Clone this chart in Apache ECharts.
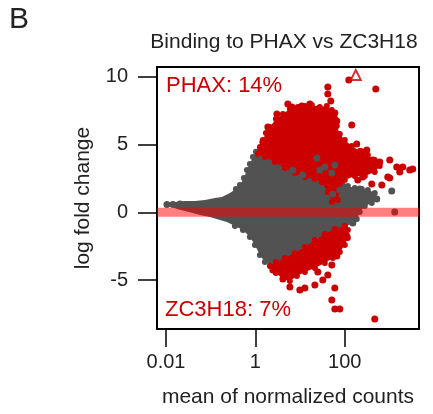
<!DOCTYPE html>
<html><head><meta charset="utf-8">
<script src="https://cdn.jsdelivr.net/npm/echarts@6/dist/echarts.min.js"></script>
<style>html,body{margin:0;padding:0;background:#fff}#c{width:433px;height:414px}</style>
</head><body><div id="c"></div>
<script>
// ---- data (mean of normalized counts, log fold change) ----
const xTicks = [0.01, 1, 100];
const yTicks = [-5, 0, 5, 10];
const xRange = [0.00629, 4571];
const yRange = [-8.61, 10.72];

// dense grey cloud outline (non-significant genes)
const greyOutline = [
  [0.0095,0.69],[0.0159,0.76],[0.0266,0.83],[0.0445,0.83],[0.0744,0.91],[0.124,1.06],[0.178,1.13],
  [0.269,1.42],[0.367,1.72],[0.451,2.01],[0.553,2.53],[0.646,3.12],[0.753,3.56],[0.879,4.08],
  [1.03,4.46],[1.20,4.38],[1.47,4.16],[2.11,4.01],[3.02,3.71],[4.12,3.49],[5.90,3.27],[8.46,3.12],
  [11.5,2.97],[16.5,2.97],[23.7,3.27],[32.2,3.49],[46.2,3.56],[66.3,3.12],[85.7,2.38],[117,1.94],
  [167,1.79],[240,1.72],[327,1.65],[468,1.42],[519,0.98],[401,0.69],[280,0.46],[216,0.02],
  [185,-0.49],[151,-0.79],[100,-1.09],[77.3,-1.16],[46.2,-1.38],[27.6,-1.75],[16.5,-2.27],
  [9.87,-2.78],[5.90,-3.23],[3.53,-3.59],[2.34,-3.97],[1.63,-3.67],[1.26,-3.15],[0.975,-2.41],
  [0.753,-1.82],[0.526,-1.31],[0.348,-1.01],[0.231,-0.72],[0.161,-0.57],[0.0962,-0.35],
  [0.0575,-0.20],[0.0401,-0.05],[0.0266,0.10],[0.0176,0.24],[0.0123,0.46]
];
// dense red cloud, enriched with PHAX
const phaxOutline = [
  [1.14,4.31],[1.26,4.82],[1.47,5.34],[1.72,5.85],[2.11,6.29],[2.87,6.89],[4.12,7.25],[5.90,7.62],
  [8.91,7.77],[12.8,7.85],[18.3,7.92],[27.6,7.77],[39.6,7.85],[51.2,7.55],[59.8,6.96],[66.3,6.37],
  [77.3,5.78],[100,5.34],[143,4.90],[216,4.53],[327,4.23],[468,3.86],[606,3.42],[468,2.97],
  [280,2.68],[167,2.68],[100,2.38],[77.3,1.65],[69.8,0.91],[51.2,0.76],[41.7,1.50],[30.6,2.24],
  [21.4,2.46],[12.8,2.61],[7.64,2.90],[4.56,3.27],[2.73,3.71],[1.63,4.08]
];
// dense red cloud, enriched with ZC3H18
const zcOutline = [
  [2.11,-3.97],[2.87,-3.67],[4.56,-3.37],[7.64,-3.01],[12.8,-2.56],[21.4,-2.04],[35.7,-1.60],
  [59.8,-1.23],[100,-1.01],[117,-1.31],[117,-1.90],[100,-2.41],[77.3,-2.93],[53.9,-3.37],
  [35.7,-3.74],[21.4,-4.11],[12.8,-4.41],[8.46,-4.70],[5.90,-5.07],[4.12,-4.92],[2.87,-4.48]
];
// individual points outside / on the edge of the dense clouds
const phaxPoints = [
  [123,9.76],[493,9.10],[41.7,9.25],[41.7,8.73],[48.6,8.21],[5.32,7.99],[6.54,7.77],[10.9,7.85],
  [16.5,7.99],[24.9,7.62],[3.02,7.25],[4.56,7.03],[59.8,7.33],[66.3,6.73],[143,6.44],[1.90,6.29],
  [2.11,5.85],[1.47,5.19],[1.33,4.60],[111,4.82],[185,5.04],[240,4.46],[310,4.60],[423,3.86],
  [606,3.71],[362,3.34],[914,2.61],[672,2.01],[1452,3.34],[1977,3.34],[2836,3.12],[3311,3.20],
  [1694,2.97],[252,2.61],[129,3.34],[1013,3.86],[401,2.09],[167,4.01],[100,3.86],[1013,2.53],[195,2.38]
];
const zcPoints = [
  [2.46,-4.26],[4.12,-4.92],[5.90,-5.51],[9.87,-5.73],[12.8,-5.59],[21.4,-5.37],[32.2,-5.00],
  [41.7,-4.63],[51.2,-3.89],[24.9,-4.41],[59.8,-5.59],[51.2,-6.47],[59.8,-7.14],[77.3,-7.14],
  [468,-7.88],[111,-1.75],[66.3,-3.23]
];
const greyPoints = [
  [1122,1.57],[1310,0.02],[327,1.42],[216,1.72],[423,1.28],[519,0.98],[151,-0.79],[27.6,3.12],
  [35.7,3.34],[6.89,3.12],[11.5,2.75],[51.2,2.90],[23.7,4.01],[53.9,1.35],[77.3,1.65],[59.8,3.49],
  [100,1.50],[143,1.50],[0.0105,0.58],[0.0143,0.58],[0.0206,0.62]
];
const offScale = [[176,10.13]];   // point beyond the y limit (open triangle)
const labels = { title:'Binding to PHAX vs ZC3H18', up:'PHAX: 14%', down:'ZC3H18: 7%', panel:'B',
  xName:'mean of normalized counts', yName:'log fold change' };

// ---- chart ----
const RED = '#cc0000', GREY = '#525252', FONT = '"Liberation Sans", Arial, sans-serif';
function poly(pts, color, z){
  return { type:'custom', coordinateSystem:'cartesian2d', data:[pts[0]], z, silent:true,
    renderItem:(p, api) => ({ type:'polygon', shape:{ points: pts.map(q => api.coord(q)) }, style:{ fill: color } }) };
}
function dots(pts, color, z, size){
  return { type:'scatter', data:pts, symbol:'circle', symbolSize:size || 7, z, silent:true,
    itemStyle:{ color, opacity:1 } };
}
const chart = echarts.init(document.getElementById('c'), null, { renderer:'canvas' });
chart.setOption({
  animation:false,
  grid:{ left:157, top:67, width:262, height:262, show:true, borderColor:'#000', borderWidth:2, backgroundColor:'transparent' },
  xAxis:{ type:'log', logBase:10, min:xRange[0], max:xRange[1],
    name:labels.xName, nameLocation:'middle', nameGap:58,
    nameTextStyle:{ fontSize:21, color:'#222', fontFamily:FONT },
    axisLine:{ show:false, onZero:false }, splitLine:{ show:false },
    axisTick:{ show:true, inside:false, length:18, customValues:xTicks, lineStyle:{ color:'#000', width:1.5 } },
    axisLabel:{ customValues:xTicks, fontSize:20, color:'#222', fontFamily:FONT, margin:23,
      formatter: v => String(v) } },
  yAxis:{ type:'value', min:yRange[0], max:yRange[1],
    name:labels.yName, nameLocation:'middle', nameGap:63, nameRotate:90,
    nameTextStyle:{ fontSize:21, color:'#222', fontFamily:FONT },
    axisLine:{ show:false, onZero:false }, splitLine:{ show:false },
    axisTick:{ show:true, inside:false, length:19, customValues:yTicks, lineStyle:{ color:'#000', width:1.5 } },
    axisLabel:{ customValues:yTicks, fontSize:20, color:'#222', fontFamily:FONT, margin:29 } },
  series:[
    poly(greyOutline, GREY, 1), dots(greyOutline.filter(p => p[0] > 0.3), GREY, 1, 6),
    poly(phaxOutline, RED, 2), dots(phaxOutline, RED, 2, 6),
    poly(zcOutline, RED, 2), dots(zcOutline, RED, 2, 6),
    dots(greyPoints, GREY, 3),
    dots(phaxPoints, RED, 4), dots(zcPoints, RED, 4),
    { type:'scatter', data:offScale, symbol:'triangle', symbolSize:10, z:4, silent:true,
      itemStyle:{ color:'#fff', borderColor:RED, borderWidth:2 } },
    { type:'line', data:[[xRange[0],0],[xRange[1],0]], symbol:'none', z:5, silent:true,
      lineStyle:{ color:'rgba(255,0,0,0.5)', width:9 } }
  ],
  graphic:[
    { type:'text', x:9, y:5, style:{ text:labels.panel, fontSize:30, fill:'#222', fontFamily:FONT } },
    { type:'text', x:284, y:42, style:{ text:labels.title, fontSize:21, fill:'#222', fontFamily:FONT, align:'center', verticalAlign:'middle' } },
    { type:'text', x:166, y:86, z:10, style:{ text:labels.up, fontSize:22, fill:RED, fontFamily:FONT, verticalAlign:'middle' } },
    { type:'text', x:165, y:310, z:10, style:{ text:labels.down, fontSize:22, fill:RED, fontFamily:FONT, verticalAlign:'middle' } }
  ]
});
</script></body></html>
